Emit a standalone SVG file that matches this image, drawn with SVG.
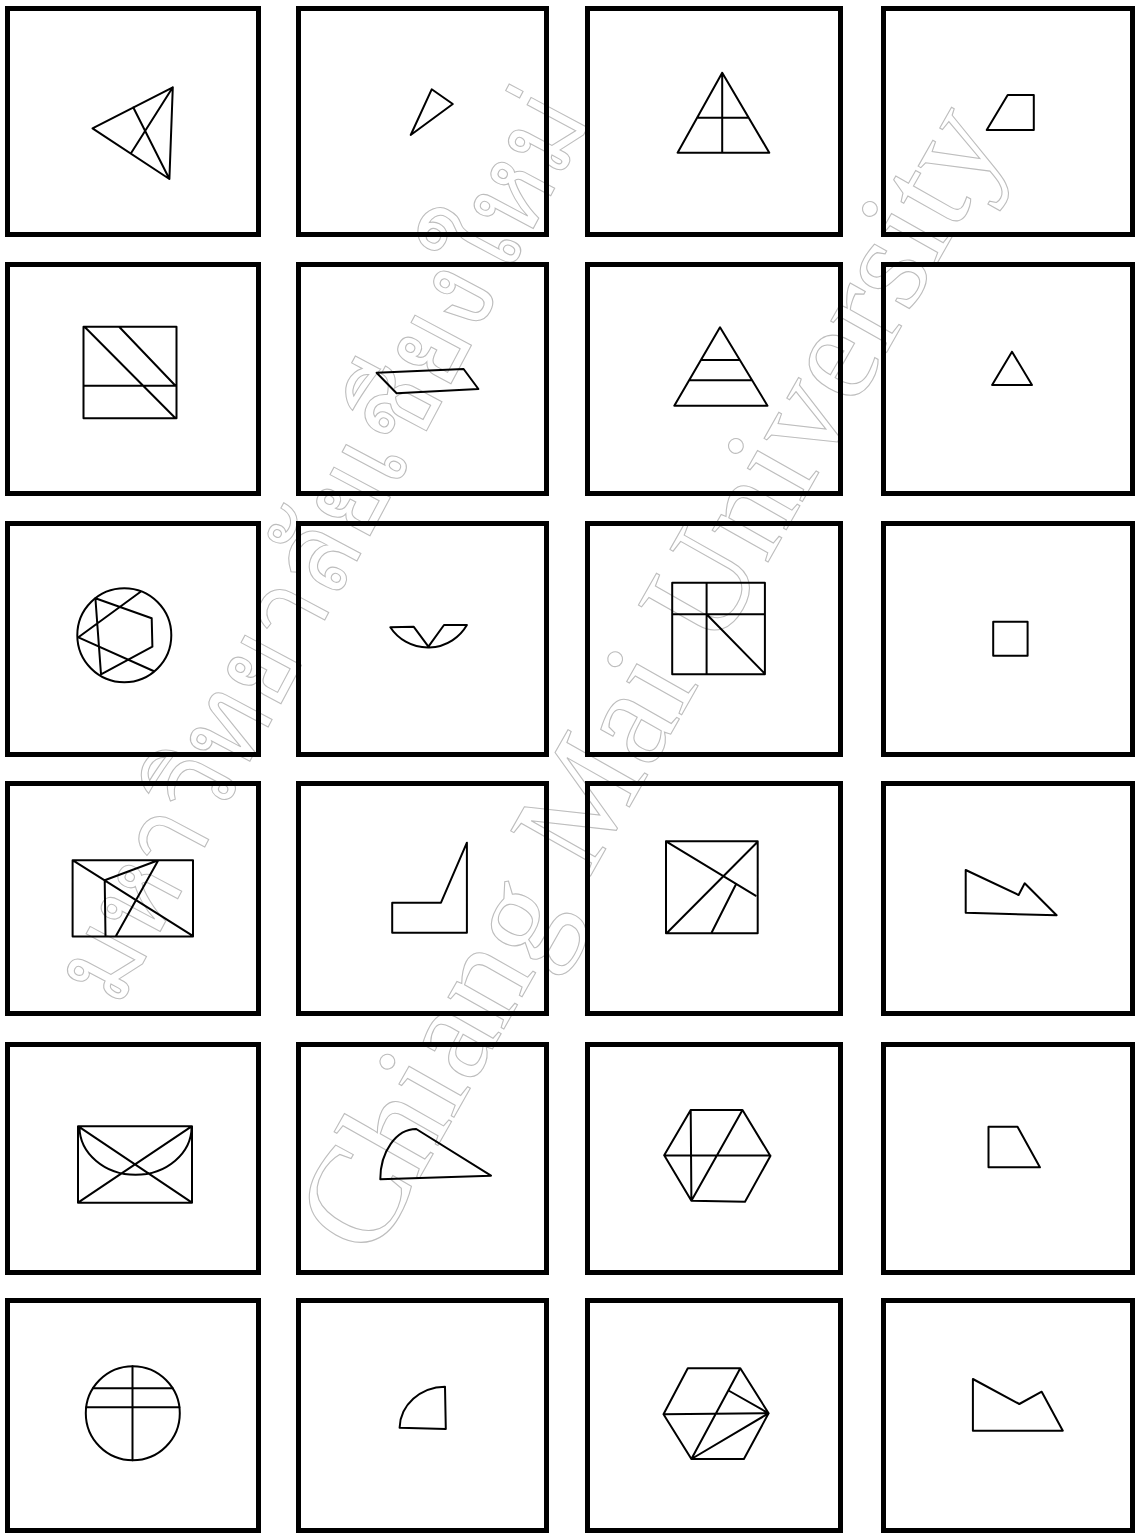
<svg xmlns="http://www.w3.org/2000/svg" width="1138" height="1535" viewBox="0 0 1138 1535">
<style>
.box{fill:none;stroke:#000;stroke-width:5}
.sh{fill:none;stroke:#000;stroke-width:2;stroke-linejoin:round;stroke-linecap:round}
.wm{fill:none;stroke:#bdbdbd;stroke-width:1.1}
</style>
<rect width="1138" height="1535" fill="#fff"/>
<g id="watermark">
<text class="wm" font-family="Liberation Serif, serif" font-size="140" transform="translate(372,1262) rotate(-60.5)">Chiang Mai University</text>
<text class="wm" font-family="Noto Sans, DejaVu Sans, sans-serif" font-size="115" textLength="1010" lengthAdjust="spacingAndGlyphs" transform="translate(118,1010) rotate(-62)">มหาวิทยาลัยเชียงใหม่</text>
</g>
<g id="r1c1"><rect class="box" x="7.5" y="8.5" width="251" height="226"/>
<path class="sh" d="M92.5,128.3 L172.8,87.3 L169.4,179 Z M133.2,107.3 L169.4,179 M131.3,152.7 L172.8,87.3"/></g>
<g id="r1c2"><rect class="box" x="298.5" y="8.5" width="248" height="226"/>
<path class="sh" d="M431.7,89.3 L452.8,104 L410.7,135 Z"/></g>
<g id="r1c3"><rect class="box" x="587.5" y="8.5" width="253" height="226"/>
<path class="sh" d="M722.2,72.7 L677.6,152.7 L769.3,152.7 Z M697.1,117.7 L747.3,117.7 M722.2,72.7 L722.2,152.7"/></g>
<g id="r1c4"><rect class="box" x="883.5" y="8.5" width="249" height="226"/>
<path class="sh" d="M1007.7,95 L1033.8,95 L1033.8,130 L986.7,130 Z"/></g>

<g id="r2c1"><rect class="box" x="7.5" y="264.5" width="251" height="229"/>
<path class="sh" d="M83.5,326.7 H176.5 V418.3 H83.5 Z M83.5,385.7 H176.5 M84.5,326.7 L175.5,418.3 M119.1,326.7 L175.5,385.7"/></g>
<g id="r2c2"><rect class="box" x="298.5" y="264.5" width="248" height="229"/>
<path class="sh" d="M376.6,372.7 L463.6,369 L478.4,389 L396.6,393.3 Z"/></g>
<g id="r2c3"><rect class="box" x="587.5" y="264.5" width="253" height="229"/>
<path class="sh" d="M720,327.3 L674.3,405.7 L767.5,405.7 Z M700.9,360 H739.8 M689.1,380.3 H752.1"/></g>
<g id="r2c4"><rect class="box" x="883.5" y="264.5" width="249" height="229"/>
<path class="sh" d="M1012,351.7 L992.1,385 L1032,385 Z"/></g>

<g id="r3c1"><rect class="box" x="7.5" y="523.5" width="251" height="231"/>
<circle class="sh" cx="124.3" cy="635.3" r="47"/>
<path class="sh" d="M95.4,598.3 L151.7,618.3 L152.4,646.7 L101,674.3 Z M140.6,591.7 L78.4,637.3 L153.5,671"/></g>
<g id="r3c2"><rect class="box" x="298.5" y="523.5" width="248" height="231"/>
<path class="sh" d="M390.3,627.3 L413.6,626.7 L428.4,646.7 L444,625 L466.9,625 A45,45 0 0 1 390.3,627.3 Z"/></g>
<g id="r3c3"><rect class="box" x="587.5" y="523.5" width="253" height="231"/>
<path class="sh" d="M672.2,582.7 H764.9 V674.3 H672.2 Z M706.6,582.7 V674.3 M672.2,614.3 H764.9 M706.6,614.3 L764.9,673.8"/></g>
<g id="r3c4"><rect class="box" x="883.5" y="523.5" width="249" height="231"/>
<path class="sh" d="M993.2,621.7 H1027.6 V655.7 H993.2 Z"/></g>

<g id="r4c1"><rect class="box" x="7.5" y="783.5" width="251" height="230"/>
<path class="sh" d="M72.6,860.3 H193 V936.5 H72.6 Z M73.3,860.7 L192.4,935.7 M104.7,880.3 L158.3,860.3 M104.7,880.3 L105.5,936.3 M158.3,860.3 L115.8,936.3"/></g>
<g id="r4c2"><rect class="box" x="298.5" y="783.5" width="248" height="230"/>
<path class="sh" d="M392.2,902.7 L441,902.7 L466.9,842.7 L466.9,932.7 L392.2,932.7 Z"/></g>
<g id="r4c3"><rect class="box" x="587.5" y="783.5" width="253" height="230"/>
<path class="sh" d="M666,841.3 H757.7 V933.3 H666 Z M666,841.3 L755.5,895.7 M757.7,841.7 L667.1,932.7 M736,884.3 L711.3,933.3"/></g>
<g id="r4c4"><rect class="box" x="883.5" y="783.5" width="249" height="230"/>
<path class="sh" d="M965.7,870 L1018.6,895 L1024.7,883.3 L1056.6,915.3 L965.7,912.7 Z"/></g>

<g id="r5c1"><rect class="box" x="7.5" y="1044.5" width="251" height="228"/>
<path class="sh" d="M78,1126.2 H192 V1202.7 H78 Z M78,1126.2 L192,1202.7 M192,1126.2 L78,1202.7 M79.5,1126.7 A56,48 0 0 0 191.6,1126.7"/></g>
<g id="r5c2"><rect class="box" x="298.5" y="1044.5" width="248" height="228"/>
<path class="sh" d="M380.3,1179.3 A36,50 0 0 1 416.2,1129 L491,1175.7 Z"/></g>
<g id="r5c3"><rect class="box" x="587.5" y="1044.5" width="253" height="228"/>
<path class="sh" d="M690.7,1110 L742.5,1110 L770.4,1156 L745,1201.7 L691.4,1200.7 L664.2,1155.3 Z M664.2,1155.5 H770.4 M690.7,1110 L691.4,1200.7 M742.5,1110 L691.4,1200.7"/></g>
<g id="r5c4"><rect class="box" x="883.5" y="1044.5" width="249" height="228"/>
<path class="sh" d="M988.5,1126.7 L1017.5,1126.7 L1039.9,1167.3 L988.5,1167.3 Z"/></g>

<g id="r6c1"><rect class="box" x="7.5" y="1300.5" width="251" height="230"/>
<circle class="sh" cx="132.8" cy="1413.3" r="47"/>
<path class="sh" d="M93,1388.3 H172.6 M86.2,1407.3 H179.4 M132.5,1366.3 V1460.3"/></g>
<g id="r6c2"><rect class="box" x="298.5" y="1300.5" width="248" height="230"/>
<path class="sh" d="M399.6,1427.7 L445.8,1429 L445,1386.7 A46,42 0 0 0 399.6,1427.7 Z"/></g>
<g id="r6c3"><rect class="box" x="587.5" y="1300.5" width="253" height="230"/>
<path class="sh" d="M687.8,1368.3 L740.3,1368.3 L768.6,1413.3 L743.9,1459 L691.4,1459 L663.5,1414.3 Z M663.5,1414.3 L768.6,1413.3 M740.3,1368.3 L691.4,1459 M729.4,1391 L768.6,1413.3 M691.4,1459 L768.6,1413.3"/></g>
<g id="r6c4"><rect class="box" x="883.5" y="1300.5" width="249" height="230"/>
<path class="sh" d="M972.9,1379 L1019.3,1404 L1041.7,1391.7 L1062.8,1430.7 L972.9,1430.7 Z"/></g>
</svg>
